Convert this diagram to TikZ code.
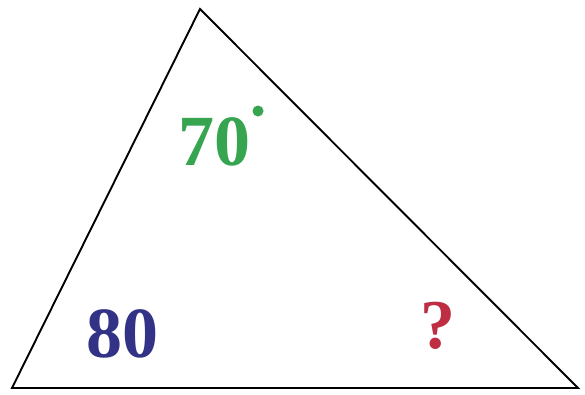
\documentclass[tikz,border=0pt]{standalone}
\usepackage{fontspec}
\setmainfont{Liberation Serif}
\definecolor{anggreen}{RGB}{55,165,80}
\definecolor{angblue}{RGB}{50,50,135}
\definecolor{angred}{RGB}{190,45,65}
\begin{document}
\begin{tikzpicture}[x=1pt,y=-1pt,
  side/.style={draw=black,line width=1.9pt,line join=miter},
  angle/.style={font=\fontsize{72}{72}\selectfont\bfseries,inner sep=0pt,anchor=base}]
\useasboundingbox[fill=white] (0,0) rectangle (585,394);
\coordinate (A) at (200,9);
\coordinate (B) at (12,388);
\coordinate (C) at (578,388);
\draw[side] (A) -- (B) -- (C) -- cycle;
\node[angle,text=anggreen] (t70) at (214,165) {70};
\fill[anggreen] (258,111) circle (5.5pt);
\node[angle,text=angblue] (t80) at (122,357) {80};
\node[angle,text=angred,font=\fontsize{70}{70}\selectfont\bfseries] (tq) at (438,348) {?};
\end{tikzpicture}
\end{document}
